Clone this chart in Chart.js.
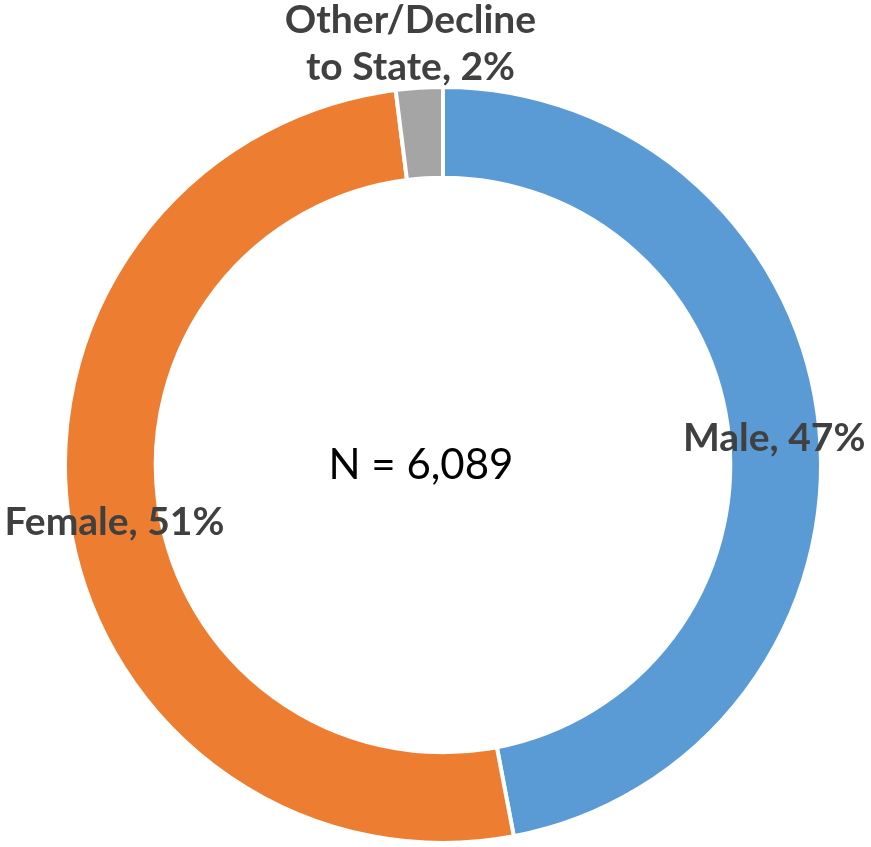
<!DOCTYPE html>
<html>
<head>
<meta charset="utf-8">
<script src="https://cdn.jsdelivr.net/npm/chart.js@4"></script>
<style>
  body { margin: 0; background: #fff; }
  #wrap { width: 871px; height: 847px; }
</style>
</head>
<body>
<div id="wrap"><canvas id="chart" width="871" height="847"></canvas></div>
<script>
const labels = ["Male", "Female", "Other/Decline to State"];
const labelLines = [["Male, 47%"], ["Female, 51%"], ["Other/Decline", "to State, 2%"]];
const values = [47, 51, 2];
const colors = ["#5B9BD5", "#ED7D31", "#A5A5A5"];
const centerText = "N = 6,089";

// labels inside the ring; tiny slices go outside
const sliceLabels = {
  id: "sliceLabels",
  afterDraw(chart) {
    const ctx = chart.ctx;
    const meta = chart.getDatasetMeta(0);
    ctx.save();
    ctx.fillStyle = "#404040";
    ctx.font = "bold 39px Lato";
    ctx.textAlign = "center";
    ctx.textBaseline = "middle";
    meta.data.forEach((arc, i) => {
      const { x, y, startAngle, endAngle, innerRadius, outerRadius } = arc.getProps(
        ["x", "y", "startAngle", "endAngle", "innerRadius", "outerRadius"], true);
      const mid = (startAngle + endAngle) / 2;
      const small = values[i] < 5;
      const r = small ? outerRadius + 44 : (innerRadius + outerRadius) / 2;
      const lx = x + Math.cos(mid) * r + (small ? -6 : 0);
      const ly = y + Math.sin(mid) * r + (small ? 0 : 5);
      const lines = labelLines[i];
      const lh = 47;
      lines.forEach((t, k) => {
        ctx.fillText(t, lx, ly + (k - (lines.length - 1) / 2) * lh);
      });
    });
    // centre text
    const a = meta.data[0];
    ctx.fillStyle = "#000";
    ctx.font = "42px Lato";
    ctx.fillText(centerText, a.x - 22, a.y);
    ctx.restore();
  }
};

new Chart(document.getElementById("chart"), {
  type: "doughnut",
  data: {
    labels,
    datasets: [{
      data: values,
      backgroundColor: colors,
      borderColor: "#fff",
      borderWidth: 4,
    }],
  },
  options: {
    responsive: false,
    animation: false,
    cutout: "76%",
    layout: { padding: { left: 63, right: 48, top: 85, bottom: 2 } },
    plugins: {
      legend: { display: false },
      tooltip: { enabled: false },
    },
  },
  plugins: [sliceLabels],
});
</script>
</body>
</html>
